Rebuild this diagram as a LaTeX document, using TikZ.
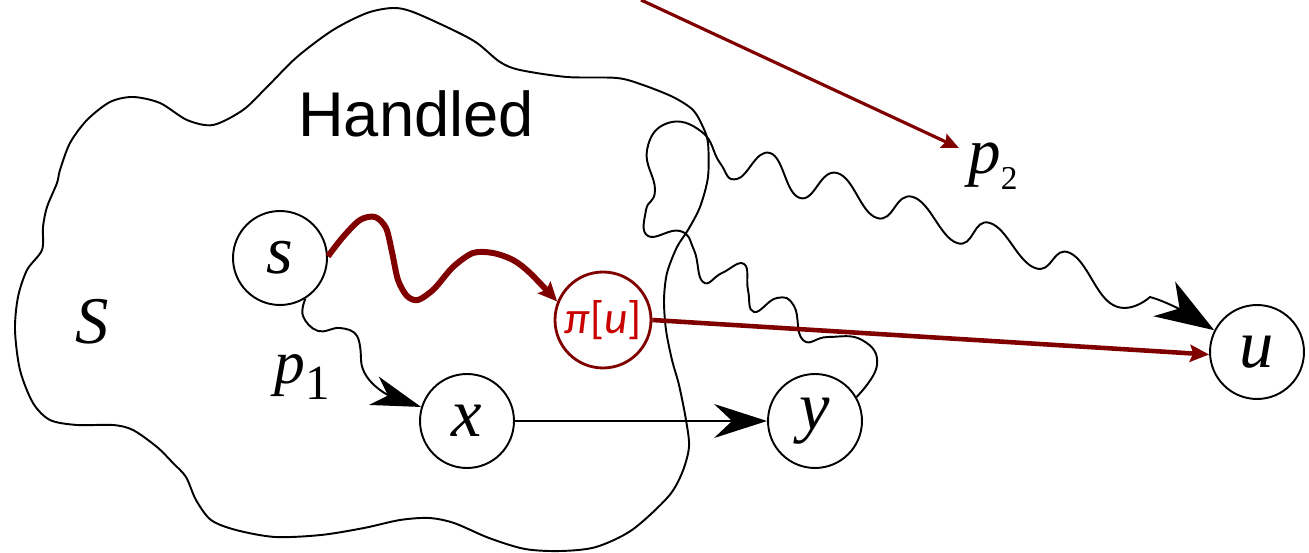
\documentclass[tikz,border=0pt]{standalone}
\usepackage{fontspec}
\setmainfont{Liberation Serif}
\newfontfamily\handfont{Liberation Sans}
\newfontfamily\calfont{Carlito}
\usetikzlibrary{arrows.meta}
\definecolor{darkred}{RGB}{128,0,0}
\definecolor{pired}{RGB}{200,0,0}

\begin{document}
\begin{tikzpicture}[x=0.02cm,y=-0.02cm,
 vert/.style={circle,draw,line width=1.1pt,minimum size=1.88cm,inner sep=0pt,font=\fontsize{39}{40}\selectfont\itshape},
 wig/.style={line width=1.1pt},
 bighead/.style={-{Stealth[length=1.06cm,width=0.68cm,inset=0.36cm]}},
 redhead/.style={-{Stealth[length=0.38cm,width=0.34cm,inset=0.06cm]}}]
 \useasboundingbox (0,0) rectangle (1309,553);
 % the set S
 \draw [wig] plot[smooth cycle] coordinates {(110,102) (133,97) (160,103) (187,120) (213,125) (243,110) (267,87) (297,57) (333,30) (367,13) (393,8) (413,12) (453,30) (477,43) (500,62) (520,70) (567,77) (617,78) (643,85) (673,97) (693,110) (703,127) (708,143) (708,177) (700,207) (688,230) (677,247) (667,273) (664,300) (666,330) (672,360) (679,385) (686,420) (689,447) (682,473) (668,497) (632,530) (596,547) (561,551) (525,549) (489,538) (454,523) (429,518) (400,520) (364,528) (321,535) (275,537) (236,530) (211,520) (196,500) (186,477) (173,463) (157,447) (133,430) (113,425) (77,425) (50,420) (33,403) (20,370) (15,330) (18,297) (27,270) (42,250) (43,227) (47,207) (57,183) (60,170) (70,143) (87,120)};
 \node[font=\fontsize{38}{40}\selectfont\itshape] (setS) at (92,322) {S};
 \node[font=\handfont\fontsize{36}{40}\selectfont,anchor=base] (handled) at (416,137) {Handled};

 \node[vert] (s) at (280,258) {s};
 \node[vert] (x) at (467,421) {x};
 \node[vert] (y) at (815,421) {y};
 \node[vert] (u) at (1257,352) {u};
 \node[vert,draw=darkred,line width=1.6pt,minimum size=1.92cm,text=pired,font=\calfont\fontsize{26}{27}\selectfont] (pi) at (603,320) {\textit{π}[\textit{u}]};

 \node[anchor=base west,inner sep=0pt,font=\fontsize{35}{36}\selectfont] (p1) at (274,384) {\textit{p}\raisebox{-9pt}{\fontsize{28}{28}\selectfont 1}};
 \node[anchor=base west,inner sep=0pt,font=\fontsize{37}{38}\selectfont] (p2) at (968,174) {\textit{p}\raisebox{-9pt}{\fontsize{19}{20}\selectfont 2}};

 % paths
 \draw [wig,bighead] (x) -- (y);
 \draw [wig,-{Stealth[length=1cm,width=0.6cm,inset=0.3cm]}] plot[smooth,tension=0.7] coordinates {(s.-58) (303,316) (318,331) (340,328) (357,336) (361,360)} .. controls (362,385) and (395,398) .. (x.163);
 \draw [wig,-{Stealth[length=1.18cm,width=0.82cm,inset=0.36cm]}] plot[smooth,tension=0.8] coordinates {(y.30) (877,365) (862,340) (828,337) (803,340) (794,306) (777,298) (754,312) (748,290) (744,264) (722,273) (703,282) (694,250) (680,231) (648,236) (646,210) (655,190) (647,150) (668,123) (702,132) (720,163) (737,179) (770,153) (800,198) (837,173) (877,218) (913,197) (957,243) (990,223) (1035,268) (1070,253) (1113,305) (1150,297)} .. controls (1168,302) and (1190,315) .. (u.153);

 \draw [darkred,line width=3.4pt,redhead] plot[smooth] coordinates {(s.2) (343,237) (360,220) (375,217) (386,228) (392,252) (398,280) (407,296) (418,300) (434,289) (453,267) (473,253) (493,253) (513,260) (530,273) (pi.158)};
 \draw [darkred,line width=2.6pt,redhead] (pi.east) -- (u.183);
 \coordinate (top) at (641,0);
 \draw [darkred,line width=1.8pt,-{Stealth[length=0.34cm,width=0.3cm,inset=0.05cm]},shorten >=0.2cm] (top) -- (p2.150);
\end{tikzpicture}
\end{document}
